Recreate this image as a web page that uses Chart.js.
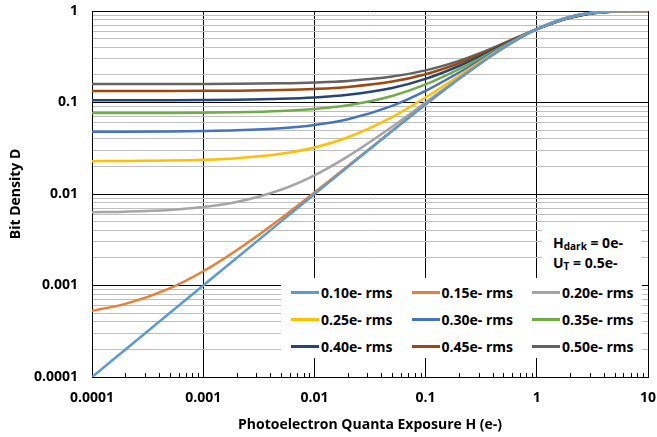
<!DOCTYPE html>
<html>
<head>
<meta charset="utf-8">
<script src="https://cdn.jsdelivr.net/npm/chart.js@4.4.1/dist/chart.umd.min.js"></script>
<style>
  body { margin: 0; background: #fff; }
  #wrap { position: relative; width: 657px; height: 437px; }
  #legend {
    position: absolute; left: 281px; top: 278px; width: 361px; height: 80px;
    background: #fff; font: bold 14px "Open Sans", sans-serif; color: #000;
  }
  .item { position: absolute; height: 20px; display: flex; align-items: center; white-space: nowrap; }
  .item span.swatch { display: inline-block; width: 28px; height: 3px; margin-right: 2px; }
  #note {
    position: absolute; left: 542px; top: 222px; width: 99px; height: 56px;
    background: #fff; font: bold 14px "Open Sans", sans-serif; color: #000; line-height: 20px;
  }
  #note div { position: absolute; left: 11px; white-space: nowrap; }
  sub { font-size: 10px; vertical-align: -2px; line-height: 0; }
</style>
</head>
<body>
<div id="wrap">
  <canvas id="myChart"></canvas>
  <div id="note">
    <div style="top:11px">H<sub>dark</sub> = 0e-</div>
    <div style="top:31px">U<sub>T</sub> = 0.5e-</div>
  </div>
  <div id="legend"></div>
</div>
<script>
const exposure = [0.0001, 0.0002, 0.0005, 0.001, 0.002, 0.005, 0.01, 0.02, 0.05, 0.1, 0.2, 0.3, 0.5, 0.7, 1, 1.5, 2, 3, 5, 7, 10];

const noiseLabels = ['0.10e- rms', '0.15e- rms', '0.20e- rms', '0.25e- rms', '0.30e- rms', '0.35e- rms', '0.40e- rms', '0.45e- rms', '0.50e- rms'];

const d010 = [0.0001, 0.0002, 0.0005, 0.0010, 0.0020, 0.00499, 0.00995, 0.0198, 0.0488, 0.0952, 0.1813, 0.2592, 0.3935, 0.5034, 0.6321, 0.7769, 0.8647, 0.9502, 0.9933, 0.9991, 1];
const d015 = [0.00053, 0.00063, 0.00093, 0.00143, 0.00243, 0.00541, 0.01037, 0.0202, 0.0492, 0.0955, 0.1816, 0.2594, 0.3936, 0.5035, 0.6321, 0.7768, 0.8646, 0.9501, 0.9933, 0.9991, 1];
const d020 = [0.00631, 0.00641, 0.0067, 0.0072, 0.00818, 0.01114, 0.0160, 0.0258, 0.0544, 0.1002, 0.1854, 0.2624, 0.3954, 0.5043, 0.6321, 0.7762, 0.8639, 0.9496, 0.9931, 0.9991, 1];
const d025 = [0.02285, 0.02294, 0.02323, 0.0237, 0.02466, 0.02751, 0.03225, 0.0417, 0.0693, 0.1137, 0.1962, 0.2710, 0.4004, 0.5068, 0.6321, 0.7744, 0.8616, 0.9479, 0.9927, 0.9990, 1];
const d030 = [0.04789, 0.04797, 0.04824, 0.04869, 0.0496, 0.0523, 0.0568, 0.0657, 0.0920, 0.1341, 0.2126, 0.2840, 0.4080, 0.5105, 0.6321, 0.7716, 0.8582, 0.9454, 0.9920, 0.9988, 1];
const d035 = [0.0767, 0.0768, 0.0770, 0.0775, 0.0783, 0.0808, 0.0850, 0.0934, 0.1180, 0.1575, 0.2315, 0.2989, 0.4167, 0.5148, 0.6321, 0.7684, 0.8543, 0.9426, 0.9912, 0.9987, 1];
const d040 = [0.1058, 0.1058, 0.1060, 0.1064, 0.1072, 0.1096, 0.1135, 0.1213, 0.1442, 0.1812, 0.2505, 0.3140, 0.4255, 0.5191, 0.6321, 0.7651, 0.8504, 0.9397, 0.9905, 0.9985, 1];
const d045 = [0.1334, 0.1334, 0.1336, 0.1340, 0.1347, 0.1369, 0.1406, 0.1478, 0.1692, 0.2037, 0.2686, 0.3283, 0.4339, 0.5233, 0.6321, 0.7620, 0.8467, 0.9369, 0.9897, 0.9984, 1];
const d050 = [0.1588, 0.1588, 0.1590, 0.1593, 0.1600, 0.1621, 0.1655, 0.1722, 0.1921, 0.2244, 0.2852, 0.3415, 0.4416, 0.5270, 0.6321, 0.7592, 0.8432, 0.9344, 0.9890, 0.9982, 0.9999];

const colors = ['#5B9BD5', '#ED7D31', '#A5A5A5', '#FFC000', '#4472C4', '#70AD47', '#264478', '#9E480E', '#636363'];

const xTickLabels = ['0.0001', '0.001', '0.01', '0.1', '1', '10'];
const yTickLabels = ['0.0001', '0.001', '0.01', '0.1', '1'];
const xDecades = [0.0001, 0.001, 0.01, 0.1, 1, 10];
const yDecades = [0.0001, 0.001, 0.01, 0.1, 1];

const series = [d010, d015, d020, d025, d030, d035, d040, d045, d050];

function isDecade(v) {
  const l = Math.log10(v);
  return Math.abs(l - Math.round(l)) < 1e-9;
}

// small tick marks along the x axis between decades
const minorTicks = {
  id: 'minorTicks',
  afterDraw(chart) {
    const xs = chart.scales.x;
    const ctx = chart.ctx;
    const bottom = chart.chartArea.bottom;
    ctx.save();
    ctx.strokeStyle = '#000';
    ctx.lineWidth = 1;
    ctx.beginPath();
    for (let i = 0; i < xDecades.length - 1; i++) {
      for (let m = 2; m <= 9; m++) {
        const px = Math.round(xs.getPixelForValue(xDecades[i] * m)) + 0.5;
        ctx.moveTo(px, bottom);
        ctx.lineTo(px, bottom - 4);
      }
    }
    ctx.stroke();
    ctx.restore();
  }
};

const tickFont = { family: 'Open Sans', size: 14, weight: 'bold' };

var ctx = document.getElementById('myChart').getContext('2d');

var myChart = new Chart(ctx, {
  type: 'line',
  data: {
    datasets: series.map((vals, i) => ({
      label: noiseLabels[i],
      data: exposure.map((x, j) => ({ x: x, y: vals[j] })),
      borderColor: colors[i],
      backgroundColor: colors[i],
      borderWidth: 2.5,
      pointRadius: 0,
      cubicInterpolationMode: 'monotone',
      fill: false
    }))
  },
  options: {
    responsive: true,
    maintainAspectRatio: false,
    animation: false,
    layout: { padding: { top: 11, right: 9, left: 0, bottom: 0 } },
    plugins: {
      legend: { display: false },
      tooltip: { enabled: false }
    },
    scales: {
      x: {
        type: 'logarithmic',
        min: 0.0001,
        max: 10,
        afterBuildTicks: (scale) => { scale.ticks = xDecades.map(v => ({ value: v })); },
        afterFit: (scale) => {
          scale.height = 60;
          scale.paddingLeft = 0;
          scale.paddingRight = 0;
        },
        ticks: {
          autoSkip: false,
          maxRotation: 0,
          padding: 13,
          color: '#000',
          font: tickFont,
          callback: (v) => xTickLabels[xDecades.indexOf(v)] ?? ''
        },
        grid: { color: '#000', lineWidth: 1, drawTicks: false },
        border: { color: '#000', width: 1 },
        title: {
          display: true,
          text: 'Photoelectron Quanta Exposure H (e-)',
          color: '#000',
          font: { family: 'Open Sans', size: 14, weight: 'bold' },
          padding: { top: 4, bottom: 4 }
        }
      },
      y: {
        type: 'logarithmic',
        min: 0.0001,
        max: 1,
        afterBuildTicks: (scale) => {
          const t = [];
          for (let i = 0; i < yDecades.length - 1; i++) {
            for (let m = 1; m <= 9; m++) t.push({ value: yDecades[i] * m });
          }
          t.push({ value: 1 });
          scale.ticks = t;
        },
        afterFit: (scale) => {
          scale.width = 92;
          scale.paddingTop = 0;
          scale.paddingBottom = 0;
        },
        ticks: {
          autoSkip: false,
          padding: 14,
          color: '#000',
          font: tickFont,
          callback: (v) => isDecade(v) ? yTickLabels[yDecades.findIndex(d => Math.abs(d - v) < d * 1e-6)] : ''
        },
        grid: {
          drawTicks: false,
          lineWidth: 1,
          color: (c) => (c.tick && isDecade(c.tick.value)) ? '#000' : '#BFBFBF'
        },
        border: { color: '#000', width: 1 },
        title: {
          display: true,
          text: 'Bit Density D',
          color: '#000',
          font: { family: 'Open Sans', size: 14, weight: 'bold' },
          padding: { top: 8, bottom: 0 }
        }
      }
    }
  },
  plugins: [minorTicks]
});

// legend built from the datasets, 3 columns x 3 rows
const legendEl = document.getElementById('legend');
myChart.data.datasets.forEach((ds, i) => {
  const div = document.createElement('div');
  div.className = 'item';
  div.style.left = (10 + (i % 3) * 120.5) + 'px';
  div.style.top = (4.7 + Math.floor(i / 3) * 26.7) + 'px';
  div.innerHTML = '<span class="swatch" style="background:' + ds.borderColor + '"></span>' + ds.label;
  legendEl.appendChild(div);
});
</script>
</body>
</html>
